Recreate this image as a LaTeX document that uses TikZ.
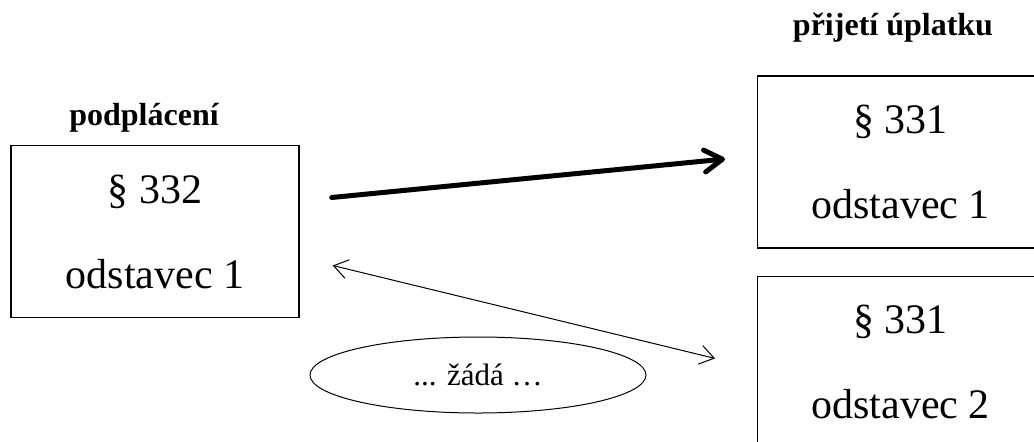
\documentclass[tikz,border=0pt]{standalone}
\usepackage{fontspec}
\setmainfont{Liberation Serif}
\usetikzlibrary{arrows.meta,positioning,shapes.geometric}
\begin{document}
\begin{tikzpicture}[x=0.5pt,y=-0.5pt,every node/.style={inner sep=0pt}]

% Define block styles
\tikzstyle{paragraf} = [rectangle, draw, line width=0.7pt, minimum width=144pt,
    minimum height=86pt, align=center, font=\fontsize{21}{42.5}\selectfont]
\tikzstyle{napis} = [align=center, font=\fontsize{21}{42.5}\selectfont]
\tikzstyle{heading} = [font=\bfseries\fontsize{16}{18}\selectfont]
\tikzstyle{bubble} = [ellipse, draw, line width=0.5pt, minimum width=168pt,
    minimum height=38pt, font=\fontsize{15.5}{17}\selectfont]
\tikzstyle{thickline} = [draw, line width=2.5pt, line cap=round,
    -{Straight Barb[round,length=9pt,width=11pt]}]
\tikzstyle{thinline} = [draw, line width=0.5pt,
    {Straight Barb[length=7pt,width=9.5pt]}-{Straight Barb[length=7pt,width=9.5pt]}]

\useasboundingbox (0,0) rectangle (1034,441);
\clip (0,0) rectangle (1034,441);

\node [paragraf] (podplaceni) at (155,231.5) {§ 332\\odstavec 1};
% right boxes run past the edge of the page
\node [paragraf, minimum width=180pt, anchor=west,
    label={[napis,xshift=-18.5pt]center:§ 331\\odstavec 1}] (prijeti1) at (757,162) {};
\node [paragraf, minimum width=180pt, below=13.5pt of prijeti1,
    label={[napis,xshift=-18.5pt]center:§ 331\\odstavec 2}] (prijeti2) {};

\node [heading, above=6pt of podplaceni, xshift=-5.5pt] (nadpis1) {podplácení};
\node [heading, above=16.5pt of prijeti1.north west, xshift=68pt] (nadpis2) {přijetí úplatku};

\node [bubble] (zada) at (478,375) {... žádá …};

\draw[thickline] ([xshift=16pt,yshift=17pt]podplaceni.east) -- ([xshift=-16pt,yshift=1.5pt]prijeti1.west);
\draw[thinline] ([xshift=16.5pt,yshift=-17pt]podplaceni.east) -- ([xshift=-21pt,yshift=2pt]prijeti2.west);

\end{tikzpicture}
\end{document}
